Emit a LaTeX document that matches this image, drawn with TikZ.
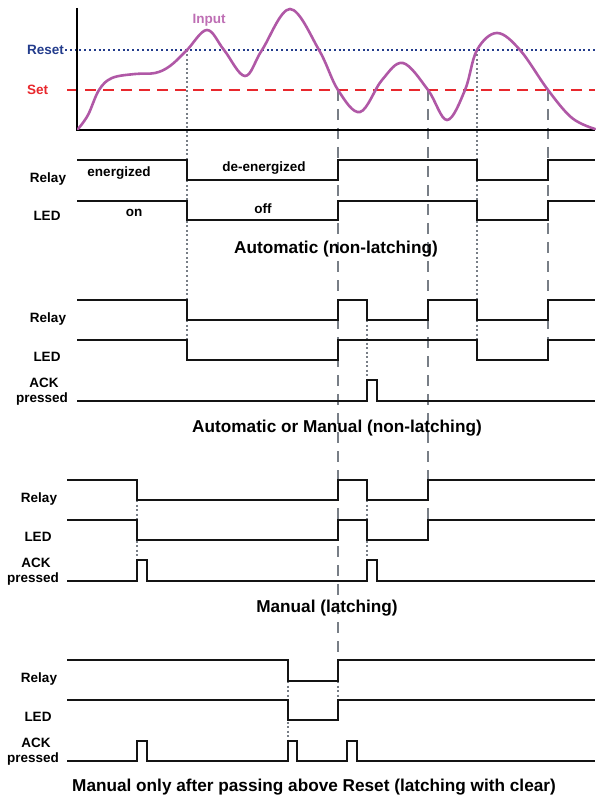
\documentclass[tikz,border=0pt]{standalone}
\usepackage{fontspec}
\setmainfont{Liberation Sans}
\definecolor{curvecol}{RGB}{176,88,166}
\definecolor{inputcol}{RGB}{190,110,180}
\definecolor{resetcol}{RGB}{35,60,140}
\definecolor{setcol}{RGB}{232,40,45}
\definecolor{guidecol}{RGB}{120,126,134}
\definecolor{sigcol}{RGB}{20,20,20}
\tikzset{
  sig/.style={draw=sigcol, line width=1.7pt, line join=miter},
  axisline/.style={draw=black, line width=1.8pt},
  guidedot/.style={draw=guidecol, line width=1.2pt, dash pattern=on 2pt off 2.5pt},
  guidedash/.style={draw=guidecol, line width=1.4pt, dash pattern=on 11pt off 8pt},
  lbl/.style={font=\bfseries\fontsize{13.5}{14}\selectfont, inner sep=0pt},
  ttl/.style={font=\bfseries\fontsize{17.2}{18}\selectfont, inner sep=0pt},
}
\begin{document}
\begin{tikzpicture}[x=1pt,y=-1pt]
\useasboundingbox (0,0) rectangle (595,799);
% guides (behind)
\draw[guidedot] (187,50) -- (187,340);
\draw[guidedot] (477,50) -- (477,340);
\draw[guidedash] (338,90) -- (338,660);
\draw[guidedot] (338,681) -- (338,700);
\draw[guidedash] (428,90) -- (428,520);
\draw[guidedash] (548,90) -- (548,340);
\draw[guidedot] (367,320) -- (367,380);
\draw[guidedot] (137,500) -- (137,560);
\draw[guidedot] (367,500) -- (367,560);
\draw[guidedot] (288,681) -- (288,741);
% thresholds
\draw[draw=resetcol, line width=1.6pt, dash pattern=on 2pt off 2.8pt] (65,50) -- (595,50);
\draw[draw=setcol, line width=2pt, dash pattern=on 11pt off 7pt] (67,90) -- (595,90);
\node[lbl, text=resetcol, anchor=east] (reset) at (64,50) {Reset};
\node[lbl, text=setcol, anchor=west] (set) at (27,90) {Set};
% axes
\draw[axisline] (77,8) -- (77,130) -- (595,130);
% input curve
\draw[draw=curvecol, line width=2.6pt, line cap=round] plot[smooth, tension=0.6] coordinates {
 (78,129) (88,115) (99,90) (112,78) (135,74) (155,73) (170,66) (187,50) (207,30) (224,50) (245,76) (262,50) (290,9) (319,50) (338,90) (360,112) (382,80) (403,63) (428,90) (447,120) (465,90) (477,50) (497,33) (520,50) (548,90) (572,118) (595,129)};
\node[lbl, text=inputcol] (input) at (209,20) {Input};
% ---------- Section 1
\draw[sig] (77,160) -- (187,160) -- (187,180) -- (338,180) -- (338,160) -- (477,160) -- (477,180) -- (548,180) -- (548,160) -- (595,160);
\draw[sig] (77,201) -- (187,201) -- (187,220) -- (338,220) -- (338,201) -- (477,201) -- (477,220) -- (548,220) -- (548,201) -- (595,201);
\node[lbl] (r1) at (48,179) {Relay};
\node[lbl] (l1) at (47,216) {LED};
\node[lbl] (en) at (119,173) {energized};
\node[lbl] (den) at (264,168) {de-energized};
\node[lbl] (on) at (134,213) {on};
\node[lbl] (off) at (263,209) {off};
\node[ttl] (t1) at (336,249) {Automatic (non-latching)};
% ---------- Section 2
\draw[sig] (77,300) -- (187,300) -- (187,320) -- (338,320) -- (338,300) -- (367,300) -- (367,320) -- (428,320) -- (428,300) -- (477,300) -- (477,320) -- (548,320) -- (548,300) -- (595,300);
\draw[sig] (77,340) -- (187,340) -- (187,360) -- (338,360) -- (338,340) -- (477,340) -- (477,360) -- (548,360) -- (548,340) -- (595,340);
\draw[sig] (77,401) -- (367,401) -- (367,380) -- (377,380) -- (377,401) -- (595,401);
\node[lbl] (r2) at (48,319) {Relay};
\node[lbl] (l2) at (47,357) {LED};
\node[lbl] (a2) at (44,383) {ACK};
\node[lbl] (p2) at (42,399) {pressed};
\node[ttl] (t2) at (337,428) {Automatic or Manual (non-latching)};
% ---------- Section 3
\draw[sig] (67,480) -- (137,480) -- (137,500) -- (338,500) -- (338,480) -- (367,480) -- (367,500) -- (428,500) -- (428,480) -- (595,480);
\draw[sig] (67,520) -- (137,520) -- (137,540) -- (338,540) -- (338,520) -- (367,520) -- (367,540) -- (428,540) -- (428,520) -- (595,520);
\draw[sig] (67,581) -- (137,581) -- (137,560) -- (147,560) -- (147,581) -- (367,581) -- (367,560) -- (377,560) -- (377,581) -- (595,581);
\node[lbl] (r3) at (39,499) {Relay};
\node[lbl] (l3) at (38,537) {LED};
\node[lbl] (a3) at (36,563) {ACK};
\node[lbl] (p3) at (33,579) {pressed};
\node[ttl] (t3) at (327,608) {Manual (latching)};
% ---------- Section 4
\draw[sig] (67,660) -- (288,660) -- (288,681) -- (338,681) -- (338,660) -- (595,660);
\draw[sig] (67,700) -- (288,700) -- (288,720) -- (338,720) -- (338,700) -- (595,700);
\draw[sig] (67,761) -- (137,761) -- (137,741) -- (147,741) -- (147,761) -- (288,761) -- (288,741) -- (297,741) -- (297,761) -- (347,761) -- (347,741) -- (357,741) -- (357,761) -- (595,761);
\node[lbl] (r4) at (39,679) {Relay};
\node[lbl] (l4) at (38,717) {LED};
\node[lbl] (a4) at (36,743) {ACK};
\node[lbl] (p4) at (33,759) {pressed};
\node[ttl] (t4) at (314,787) {Manual only after passing above Reset (latching with clear)};
\end{tikzpicture}
\end{document}
